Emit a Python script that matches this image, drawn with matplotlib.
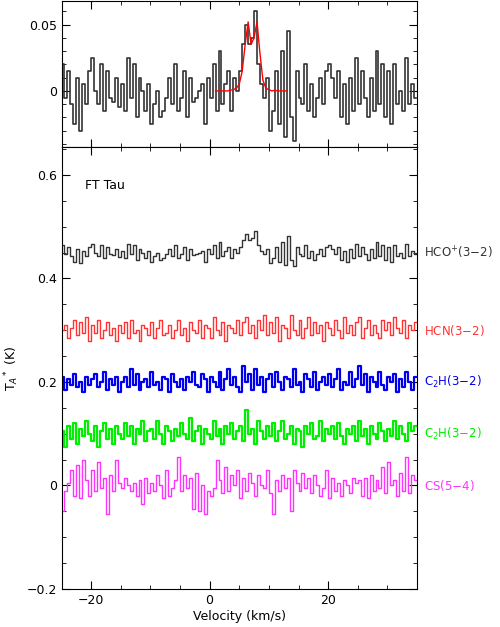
import numpy as np
import matplotlib
matplotlib.use('Agg')
import matplotlib.pyplot as plt
from matplotlib.ticker import MultipleLocator

# velocity grid (km/s), 0.5 km/s channels
vel = np.arange(-25, 35, 0.5) + 0.25

# spectra in mK
hco = [20,-5,15,-10,-25,10,-30,5,-10,15,
       25,0,-10,20,-15,15,-5,-8,10,-12,
       5,-15,25,-5,20,-20,10,0,-15,5,
       -25,-10,0,-20,-15,-5,10,-10,20,-15,
       -5,15,-20,10,-8,-5,0,5,-25,10,
       -5,20,-15,30,-10,5,15,-15,10,0,
       15,35,50,35,40,60,20,5,-5,10,
       -30,-15,15,-25,30,-35,45,-20,-38,15,
       -5,-10,20,-15,5,-20,-5,10,-10,15,
       20,10,-5,15,-20,5,-25,10,-15,25,
       -10,15,-5,-20,10,-15,30,-10,20,-20,
       15,-25,20,-10,0,-15,25,-10,5,-5]
fit_vel = np.arange(1, 13.01, 0.5)
fit = [0,0,0,0,0,0.5,1,2,5,15,35,52,35,40,52,28,8,2,1,0,0.5,0,0,0,0]
hcn = [0,10,-15,5,20,-10,15,-5,25,-20,
       10,-5,20,-15,0,15,-10,5,-20,10,
       -5,15,-15,20,-5,0,-20,10,5,-10,
       15,-15,5,20,-10,-5,10,-15,0,20,
       -10,5,-20,15,0,-5,20,-15,10,5,
       -15,25,0,-10,15,-20,10,5,-5,20,
       -10,15,25,-5,10,-15,20,0,30,-10,
       15,-5,25,-20,10,5,-15,30,0,-10,
       20,-15,5,25,-10,15,-5,10,-20,15,
       5,-10,20,0,-15,25,-5,10,-10,15,
       25,-15,5,20,-10,10,-5,-15,20,0,
       15,-10,25,5,-5,20,-15,10,0,15]
c2h_a = [10,-15,5,-5,15,-10,0,-20,10,-5,
         5,15,-10,0,20,-15,5,-5,10,-20,
         0,10,-10,25,-5,15,-15,0,5,-10,
         20,-5,0,-15,10,5,-20,15,0,-10,
         5,-15,10,0,20,-5,-10,15,5,-20,
         10,0,-10,20,-15,5,25,-5,10,-10,
         -20,30,0,15,-15,25,-5,10,-20,5,
         15,-10,20,0,-15,10,5,-10,25,-5,
         0,-20,15,5,-10,20,-15,0,10,-5,
         15,-10,5,25,-15,0,-5,20,-10,5,
         30,-5,15,-20,10,0,-10,20,-5,-15,
         10,0,15,-20,5,-10,20,0,-15,10]
c2h_b = [5,-25,15,-10,20,-20,10,-5,25,0,
         -15,15,-25,5,20,-10,10,-20,15,0,
         -10,20,-5,15,-20,10,0,25,-15,5,
         10,-10,25,0,-20,15,5,-15,10,-5,
         20,0,-10,30,-15,5,15,-20,10,0,
         -10,25,-5,10,-20,15,0,20,-10,5,
         15,-15,45,0,10,-20,25,5,-10,15,
         -5,20,-15,5,25,-10,0,15,-20,10,
         5,-25,15,0,20,-10,-5,25,-15,10,
         0,15,-10,20,-5,-20,10,0,15,-15,
         25,-5,10,-20,15,0,-10,20,5,-15,
         10,-5,25,-10,15,0,-15,20,5,15]
cs = [-50,-10,5,30,-20,40,-25,50,10,-20,
      30,-10,45,-5,15,-55,20,-10,50,5,
      -5,15,0,-10,5,-20,10,-35,15,-15,
      5,-10,20,0,-25,30,-20,-5,10,55,
      -10,20,-5,15,-45,25,-50,0,-55,-10,
      -20,-5,50,10,-15,35,-10,20,0,30,
      -25,15,-10,25,5,-20,20,0,-5,30,
      -15,-55,10,-10,20,-5,15,-50,30,5,
      -10,25,-5,15,-15,20,0,-20,-5,30,
      -25,15,-10,5,-20,10,0,-15,15,5,
      10,-20,15,-25,20,-10,10,-5,35,-15,
      45,0,10,-20,25,-10,55,-15,20,10]

names = ["HCO$^{+}$(3$-$2)", "HCN(3$-$2)", "C$_2$H(3$-$2)", "C$_2$H(3$-$2)", "CS(5$-$4)"]
spectra = [hco, hcn, c2h_a, c2h_b, cs]
offsets = [0.45, 0.3, 0.2, 0.1, 0.0]
scales = [0.7, 1, 1, 1, 1]
colors = ['#333333', '#ff3333', '#0000ee', '#00ee00', '#ff33ff']
widths = [1.0, 1.0, 1.6, 1.6, 1.0]

fig = plt.figure(figsize=(5, 6.27), dpi=100)
ax1 = fig.add_axes([0.123, 0.766, 0.711, 0.233])
ax2 = fig.add_axes([0.123, 0.0606, 0.711, 0.705])

def style(ax):
    ax.tick_params(which='both', direction='in', top=True, right=True, labelsize=9)
    ax.tick_params(which='major', length=6)
    ax.tick_params(which='minor', length=3)
    ax.xaxis.set_major_locator(MultipleLocator(20))
    ax.xaxis.set_minor_locator(MultipleLocator(5))
    ax.set_xlim(-25, 35)

ax1.step(vel, np.array(hco) / 1000, where='mid', color='#333333', lw=1.2)
ax1.plot(fit_vel, np.array(fit) / 1000, color='red', lw=1)
style(ax1)
ax1.set_ylim(-0.042, 0.068)
ax1.yaxis.set_minor_locator(MultipleLocator(0.01))
ax1.set_yticks([0, 0.05])
ax1.set_yticklabels(['0', '0.05'])
ax1.tick_params(labelbottom=False)

for s, off, k, c, w, n in zip(spectra, offsets, scales, colors, widths, names):
    ax2.step(vel, np.array(s) * k / 1000 + off, where='mid', color=c, lw=w)
    ax2.text(1.02, off, n, color=c, fontsize=8.5, va='center', ha='left',
             transform=ax2.get_yaxis_transform())
style(ax2)
ax2.set_ylim(-0.2, 0.654)
ax2.yaxis.set_minor_locator(MultipleLocator(0.05))
ax2.set_yticks([-0.2, 0, 0.2, 0.4, 0.6])
ax2.set_yticklabels(['\u22120.2', '0', '0.2', '0.4', '0.6'])
ax2.text(-21, 0.58, 'FT Tau', fontsize=9, va='center')
ax2.set_xlabel('Velocity (km/s)', fontsize=9, labelpad=2)
ax2.set_ylabel('T$_A$$^*$ (K)', fontsize=9)

fig.savefig('out.png', dpi=100)
